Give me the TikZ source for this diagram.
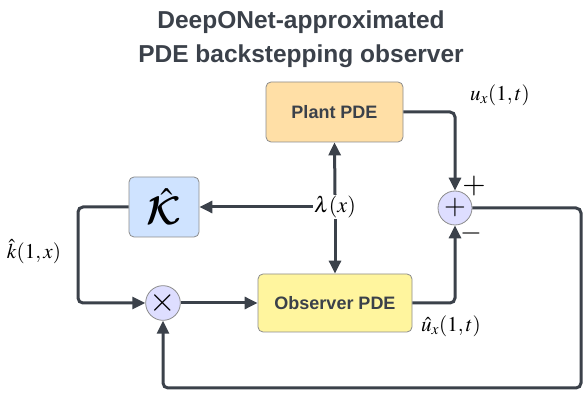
\documentclass[tikz,border=0pt]{standalone}
\usepackage{mathptmx}
\usepackage[no-math]{fontspec}
\setmainfont{Liberation Serif}
\setsansfont{Liberation Sans}
\DeclareMathAlphabet{\mathcal}{OMS}{cmsy}{b}{n}
\usetikzlibrary{positioning,arrows.meta}

\definecolor{inkgray}{HTML}{3B414A}
\definecolor{plantorange}{HTML}{FFDFA6}
\definecolor{kblue}{HTML}{CFE3FF}
\definecolor{obsyellow}{HTML}{FFF59E}
\definecolor{lavender}{HTML}{DEDEFF}

\begin{document}
\begin{tikzpicture}[x=1pt,y=-1pt,
block/.style={draw=black!45,line width=.8pt,rounded corners=5pt,fill=#1,text=inkgray,
  font=\sffamily\bfseries\fontsize{18}{20}\selectfont},
junction/.style={circle,draw=black!45,line width=.8pt,fill=lavender,minimum size=34pt,inner sep=0pt},
wire/.style={line width=3pt,draw=inkgray,rounded corners=5pt},
>={Triangle[length=13pt,width=12pt]}]
\useasboundingbox (0,0) rectangle (584,395);

% title
\node [align=center,text=inkgray,font=\sffamily\bfseries\fontsize{24.5}{34}\selectfont] (title) at (301,39)
  {DeepONet-approximated\\PDE backstepping observer};

% blocks
\node [block=plantorange,minimum width=137pt,minimum height=60pt] (plant) at (334.5,112) {Plant PDE};
\node [block=kblue,minimum width=70pt,minimum height=60pt,inner sep=0pt,text=black,font=\fontsize{24}{24}\selectfont] (khat) at (164,207) {\scalebox{1.6}{$\hat{\mathcal{K}}$}};
\node [block=obsyellow,minimum width=154pt,minimum height=58pt] (observer) at (335,303) {Observer PDE};
\node [junction,font=\fontsize{28}{28}\selectfont] (sum) at (455,208) {$+$};
\node [junction,font=\fontsize{34}{34}\selectfont] (mult) at (163,303) {$\times$};
\node [inner sep=1pt,font=\fontsize{22}{22}\selectfont] (lambda) at (335,207) {$\lambda(x)$};

% signal labels
\node [font=\fontsize{21}{21}\selectfont] (ulabel) at (500,95) {$u_x(1,t)$};
\node [font=\fontsize{21}{21}\selectfont] (uhatlabel) at (451,326) {$\hat{u}_x(1,t)$};
\node [font=\fontsize{21}{21}\selectfont] (klabel) at (34,252) {$\hat{k}(1,x)$};
\node [font=\fontsize{30}{30}\selectfont] (plussign) at (474,186) {$+$};
\node [font=\fontsize{28}{28}\selectfont] (minussign) at (471,234) {$-$};

\coordinate (kleft) at (78,207);
\coordinate (fbcorner) at (581,388);

% connectors
\draw [wire,->] (plant.east) -| (sum.north);
\draw [wire,->] (observer.east) -| (sum.south);
\draw [wire,->] (sum.east) -| (fbcorner) -| (mult.south);
\draw [wire,->] (khat.west) -- (kleft) |- (mult.west);
\draw [wire,->] (mult.east) -- (observer.west);
\draw [wire,->] (lambda.north) -- (plant.south);
\draw [wire,->] (lambda.south) -- (observer.north);
\draw [wire,->] (lambda.west) -- (khat.east);
\end{tikzpicture}
\end{document}
